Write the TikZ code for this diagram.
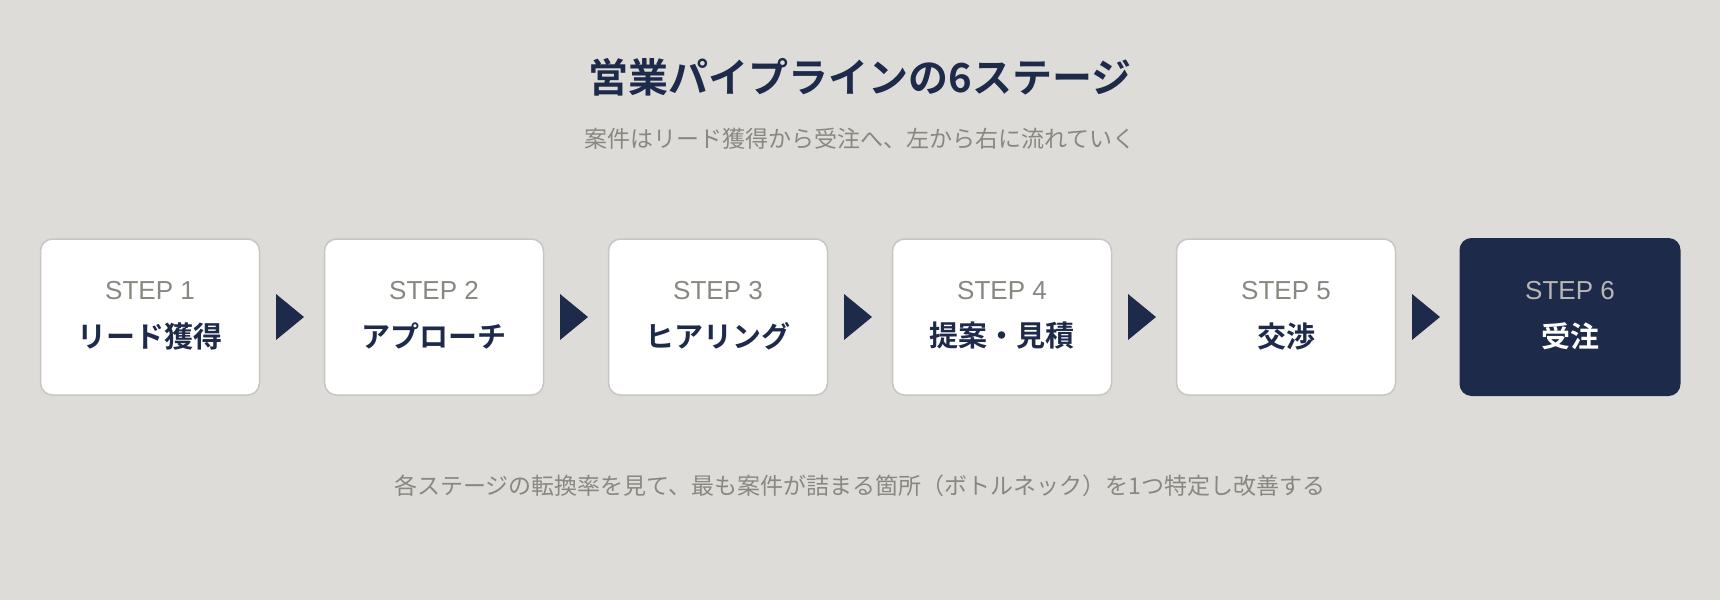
\documentclass[tikz,border=0pt]{standalone}
\usepackage{fontspec}
\setmainfont{Noto Sans CJK JP}
\newfontfamily\jpb{Noto Sans CJK JP Bold}
\newfontfamily\lat{Liberation Sans}
\definecolor{bg}{HTML}{DDDCD8}
\definecolor{navy}{HTML}{1E2A4A}
\definecolor{gry}{HTML}{8A8781}
\definecolor{bord}{HTML}{C8C6C2}
\begin{document}
\begin{tikzpicture}[x=1pt,y=-1pt,
  card/.style={draw=bord,line width=1.5pt,fill=white,rounded corners=12pt,minimum width=219pt,minimum height=156pt},
  lastcard/.style={fill=navy,rounded corners=12pt,minimum width=221pt,minimum height=158pt},
  steplbl/.style={font=\fontsize{26}{30}\selectfont\lat,text=gry},
  namelbl/.style={font=\fontsize{29}{34}\selectfont\jpb,text=navy},
  tri/.style={fill=navy}]
\fill[bg] (0,0) rectangle (1720,600);
\useasboundingbox (0,0) rectangle (1720,600);
\node[font=\fontsize{40}{46}\selectfont\jpb,text=navy] (title) at (860,77) {営業パイプラインの6ステージ};
\node[font=\fontsize{23}{28}\selectfont,text=gry] (sub) at (860,139) {案件はリード獲得から受注へ、左から右に流れていく};
\foreach \i/\n in {1/リード獲得,2/アプローチ,3/ヒアリング,4/提案・見積,5/交渉}{
  \pgfmathsetmacro\cx{150+284*(\i-1)}
  \node[card] (c\i) at (\cx,317) {};
  \node[steplbl] (s\i) at (\cx,291) {STEP \i};
  \node[namelbl] (n\i) at (\cx,336) {\n};
}
\node[lastcard] (c6) at (1570,317) {};
\node[steplbl,text=gry!60!white] (s6) at (1570,291) {STEP 6};
\node[namelbl,text=white] (n6) at (1570,336) {受注};
\foreach \i in {1,...,5}{
  \pgfmathsetmacro\ax{276+284*(\i-1)}
  \fill[tri] (\ax,294) -- (\ax+28,317) -- (\ax,340) -- cycle;
}
\node[font=\fontsize{23}{28}\selectfont,text=gry] (foot) at (860,486) {各ステージの転換率を見て、最も案件が詰まる箇所（ボトルネック）を1つ特定し改善する};
\end{tikzpicture}
\end{document}
